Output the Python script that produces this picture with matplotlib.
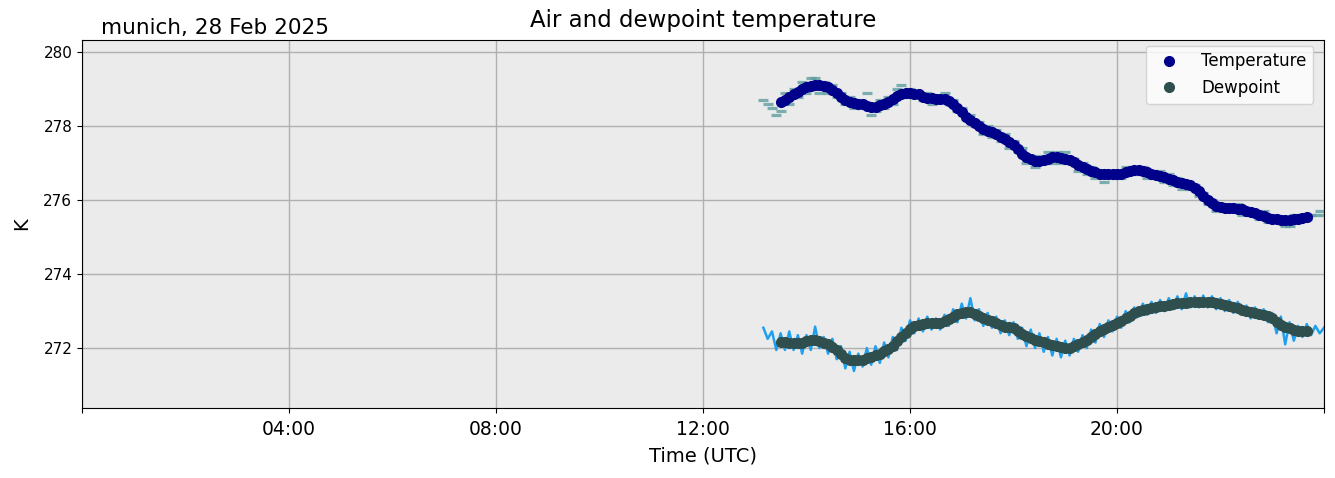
import numpy as np
import pandas as pd
import matplotlib
matplotlib.use("Agg")
import matplotlib.pyplot as plt

# ---------------- data ----------------
day = "2025-02-28"
raw_start = "2025-02-28 13:10"
smooth_start = "2025-02-28 13:30"
step = "5min"

# raw air temperature (K), 5-min samples from 13:10 to 24:00
temp_raw = [
    278.7, 278.6, 278.5, 278.3, 278.4, 278.9, 278.6, 279.0, 278.8, 279.2,
    278.9, 279.3, 279.3, 278.9, 279.2, 278.9, 279.1, 278.8, 278.9, 278.6, 278.8, 278.5,
    278.7, 278.5, 278.9, 278.3, 278.4, 278.7, 278.5, 278.8, 278.6, 279.0, 279.1, 278.8,
    279.0, 278.8, 278.9, 278.7, 278.9, 278.6, 278.8, 278.7, 278.9, 278.6, 278.7, 278.4,
    278.5, 278.2, 278.3, 278.0, 278.1, 277.8, 278.0, 277.7, 277.9, 277.6, 277.8, 277.4,
    277.6, 277.3, 277.4, 277.0, 277.2, 276.9, 277.2, 277.0, 277.3, 277.0, 277.3, 277.0,
    277.3, 277.0, 277.1, 276.8, 277.0, 276.7, 276.9, 276.6, 276.8, 276.5, 276.8, 276.6,
    276.8, 276.6, 276.9, 276.7, 276.9, 276.7, 276.9, 276.6, 276.8, 276.6, 276.8, 276.5,
    276.7, 276.4, 276.6, 276.3, 276.5, 276.3, 276.4, 276.1, 276.2, 275.9, 276.0, 275.7,
    275.9, 275.7, 275.8, 275.7, 275.9, 275.6, 275.8, 275.6, 275.7, 275.5, 275.7, 275.4,
    275.6, 275.4, 275.5, 275.3, 275.3, 275.6, 275.4, 275.6, 275.5, 275.6, 275.6, 275.7,
    275.6,
]

# raw dewpoint (K), 5-min samples from 13:10 to 24:00
dew_raw = [
    272.55, 272.25, 272.45, 271.95, 272.40, 271.95, 272.45, 271.95, 272.35, 271.85,
    272.35, 271.95, 272.58, 272.00, 272.30, 271.85, 272.25, 271.70, 272.05, 271.45, 271.90, 271.38,
    271.85, 271.50, 272.00, 271.55, 272.05, 271.60, 272.15, 271.75, 272.30, 271.95, 272.55, 272.20,
    272.75, 272.40, 272.80, 272.45, 272.85, 272.50, 272.80, 272.50, 272.90, 272.60, 273.05, 272.70,
    273.20, 272.80, 273.35, 272.75, 273.05, 272.60, 272.95, 272.55, 272.85, 272.40, 272.75, 272.35,
    272.70, 272.25, 272.55, 272.05, 272.50, 272.00, 272.40, 271.90, 272.30, 271.80, 272.25, 271.75,
    272.20, 271.80, 272.25, 271.90, 272.35, 272.00, 272.50, 272.15, 272.65, 272.30, 272.75, 272.45,
    272.85, 272.55, 273.00, 272.70, 273.10, 272.85, 273.20, 272.90, 273.25, 272.95, 273.30, 273.00,
    273.35, 273.05, 273.40, 273.05, 273.48, 273.10, 273.40, 273.10, 273.42, 273.10, 273.40, 273.05,
    273.35, 273.00, 273.30, 272.95, 273.25, 272.90, 273.15, 272.80, 273.10, 272.80, 273.05, 272.70,
    272.95, 272.40, 272.85, 272.10, 272.70, 272.20, 272.60, 272.30, 272.65, 272.35, 272.60, 272.40,
    272.55,
]

# smoothed air temperature (K), 5-min samples from 13:30
temp_smooth = [
    278.65, 278.70, 278.78, 278.86, 278.93, 279.00,
    279.06, 279.09, 279.11, 279.10, 279.08, 279.05, 278.98, 278.90, 278.80, 278.72, 278.66, 278.62,
    278.61, 278.60, 278.55, 278.52, 278.53, 278.56, 278.60, 278.66, 278.74, 278.82, 278.87, 278.89,
    278.89, 278.88, 278.86, 278.80, 278.77, 278.75, 278.74, 278.74, 278.73, 278.68, 278.60, 278.50,
    278.38, 278.26, 278.16, 278.08, 278.00, 277.93, 277.88, 277.84, 277.78, 277.72, 277.66, 277.56,
    277.48, 277.38, 277.26, 277.16, 277.10, 277.07, 277.07, 277.08, 277.12, 277.16, 277.17, 277.15,
    277.12, 277.08, 277.02, 276.96, 276.90, 276.85, 276.80, 276.75, 276.72, 276.71, 276.71, 276.71,
    276.72, 276.72, 276.76, 276.80, 276.81, 276.81, 276.79, 276.75, 276.72, 276.69, 276.66, 276.62,
    276.58, 276.54, 276.50, 276.46, 276.43, 276.40, 276.33, 276.24, 276.12, 276.00, 275.91, 275.85,
    275.81, 275.79, 275.78, 275.78, 275.77, 275.76, 275.72, 275.69, 275.66, 275.60, 275.56, 275.52,
    275.50, 275.48, 275.46, 275.45, 275.46, 275.48, 275.50, 275.53, 275.55,
]

# smoothed dewpoint (K), 5-min samples from 13:30
dew_smooth = [
    272.17, 272.16, 272.15, 272.14, 272.13, 272.15,
    272.19, 272.22, 272.23, 272.20, 272.15, 272.12, 272.04, 271.94, 271.84, 271.74, 271.68, 271.67,
    271.68, 271.69, 271.72, 271.76, 271.80, 271.84, 271.92, 271.98, 272.06, 272.18, 272.30, 272.42,
    272.52, 272.59, 272.63, 272.66, 272.68, 272.69, 272.69, 272.69, 272.72, 272.78, 272.85, 272.91,
    272.95, 272.98, 272.98, 272.93, 272.86, 272.81, 272.77, 272.73, 272.68, 272.62, 272.58, 272.56,
    272.53, 272.47, 272.39, 272.32, 272.27, 272.23, 272.20, 272.16, 272.12, 272.08, 272.05, 272.02,
    271.99, 272.01, 272.06, 272.11, 272.16, 272.22, 272.30, 272.38, 272.45, 272.52, 272.58, 272.63,
    272.67, 272.74, 272.81, 272.88, 272.94, 272.99, 273.03, 273.06, 273.09, 273.11, 273.13, 273.15,
    273.17, 273.19, 273.21, 273.22, 273.23, 273.24, 273.25, 273.25, 273.25, 273.25, 273.24, 273.23,
    273.20, 273.17, 273.14, 273.12, 273.08, 273.04, 273.00, 272.97, 272.95, 272.93, 272.90, 272.87,
    272.80, 272.71, 272.63, 272.57, 272.53, 272.49, 272.46, 272.45, 272.47,
]

x_ticks = ["", "04:00", "08:00", "12:00", "16:00", "20:00", ""]
y_ticks = [272, 274, 276, 278, 280]

# ---------------- plot ----------------
t_raw_T = pd.date_range(raw_start, periods=len(temp_raw), freq=step)
t_raw_D = pd.date_range(raw_start, periods=len(dew_raw), freq=step)
t_sm_T = pd.date_range(smooth_start, periods=len(temp_smooth), freq=step)
t_sm_D = pd.date_range(smooth_start, periods=len(dew_smooth), freq=step)

fig = plt.figure(figsize=(13.35, 4.78), dpi=100)
ax = fig.add_axes([82 / 1335, 1 - 408 / 478, 1242 / 1335, 368 / 478])
ax.set_facecolor("#ebebeb")

ax.plot(t_raw_T, temp_raw, linestyle="none", marker="_", markersize=6.5,
        markeredgewidth=2.3, color="#5f9ea0", alpha=0.8)
ax.plot(t_raw_D, dew_raw, color="#1fa0ef", linewidth=1.8)
ax.plot(t_sm_T, temp_smooth, linestyle="none", marker="o", markersize=7,
        color="darkblue", label="Temperature")
ax.plot(t_sm_D, dew_smooth, linestyle="none", marker="o", markersize=7,
        color="darkslategray", label="Dewpoint")

start = pd.Timestamp(day)
tick_pos = pd.date_range(start, start + pd.Timedelta(hours=24), freq="4h")
ax.set_xticks(tick_pos)
ax.set_xticklabels(x_ticks, fontsize=13.5)
ax.tick_params(axis="x", pad=5)
ax.set_xlim(start, start + pd.Timedelta(hours=24))
ax.set_yticks(y_ticks)
ax.set_yticklabels([str(v) for v in y_ticks], fontsize=11)
ax.set_ylim(270.38, 280.33)
ax.grid(True, color="#b0b0b0", linewidth=1)
ax.set_axisbelow(True)

ax.set_xlabel("Time (UTC)", fontsize=14, labelpad=5.5)
ax.set_ylabel("K", fontsize=14, labelpad=9)
ax.set_title("Air and dewpoint temperature", fontsize=16.5, pad=9)
fig.text(101 / 1335, 1 - 34 / 478, "munich, 28 Feb 2025", fontsize=15.5,
         va="baseline", ha="left")

ax.legend(loc="upper right", fontsize=12, handletextpad=0.9, borderpad=0.4,
          borderaxespad=0.35, bbox_to_anchor=(1 - 5 / 1242, 1))

fig.savefig("out.png", dpi=100)
